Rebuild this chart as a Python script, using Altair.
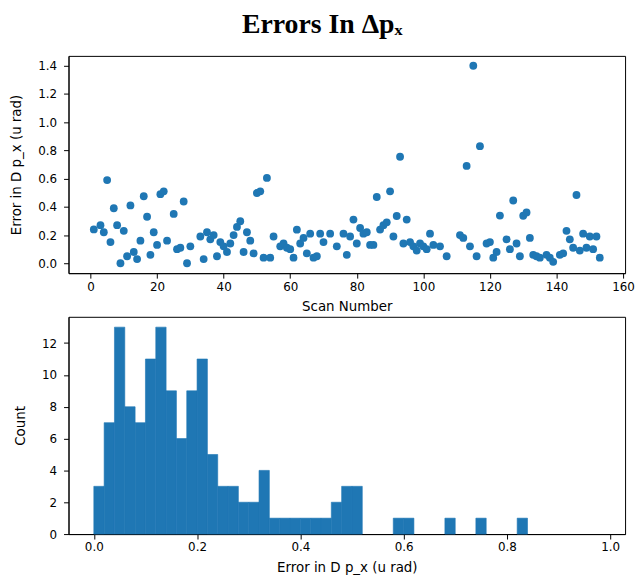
import altair as alt
import pandas as pd

# ---- scatter data: scan number vs error ----
scan = [1, 3, 4, 5, 6, 7, 8, 9, 10, 11, 12, 13, 14, 15, 16, 17, 18, 19, 20, 21, 22, 23,
        25, 26, 27, 28, 29, 30,
        33, 34, 35, 36, 37, 38, 39, 40, 41, 42, 43, 44, 45, 46, 47, 48, 49, 50, 51, 52, 53, 54, 55,
        57, 58, 59, 60, 61, 62, 63, 64, 65, 66, 67, 68, 69, 70,
        72, 74,
        76, 77, 78, 79, 80, 81, 82, 83, 84, 85, 86, 87, 88, 89, 90, 91, 92, 93, 94, 95, 96, 97, 98,
        99, 100, 101, 102, 103,
        105, 107,
        111, 112, 113, 114, 115, 116, 117,
        119, 120, 121, 122, 123,
        125, 126, 127, 128, 129, 130, 131, 132, 133, 134, 135,
        137, 138, 139,
        141, 142, 143, 144, 145, 146, 147, 148, 149, 150, 151, 152, 153]
error = [0.24, 0.27, 0.22, 0.59, 0.15, 0.39, 0.27, 0.00, 0.23, 0.05, 0.41, 0.08, 0.03, 0.16, 0.475,
         0.33, 0.06, 0.22, 0.13, 0.49, 0.51, 0.16,
         0.35, 0.10, 0.11, 0.438, 0.00, 0.12,
         0.19, 0.03, 0.22, 0.17, 0.20, 0.05, 0.15, 0.12, 0.08, 0.14, 0.20, 0.258, 0.298, 0.08, 0.22,
         0.16, 0.07, 0.498, 0.51, 0.04, 0.605, 0.04, 0.19,
         0.12, 0.14, 0.11, 0.10, 0.04, 0.238, 0.14, 0.18, 0.07, 0.21, 0.04, 0.05, 0.21, 0.15,
         0.21, 0.12,
         0.21, 0.06, 0.19, 0.31, 0.14, 0.25, 0.21, 0.22, 0.13, 0.13, 0.47, 0.239, 0.27, 0.29, 0.51,
         0.19, 0.335, 0.755, 0.14, 0.31, 0.15, 0.12, 0.09,
         0.14, 0.12, 0.10, 0.21, 0.13,
         0.12, 0.05,
         0.20, 0.18, 0.69, 0.12, 1.40, 0.05, 0.83,
         0.14, 0.15, 0.04, 0.08, 0.338,
         0.17, 0.10, 0.445, 0.14, 0.05, 0.337, 0.36, 0.18, 0.06, 0.05, 0.04,
         0.06, 0.04, 0.01,
         0.06, 0.07, 0.23, 0.17, 0.11, 0.484, 0.09, 0.21, 0.11, 0.19, 0.10, 0.19, 0.04]

# ---- histogram data: bins of width 0.02 from 0.00 to 0.98 ----
bin_start = [round(i * 0.02, 2) for i in range(49)]
bin_count = [3, 7, 13, 8, 7, 11, 13, 9, 6, 9,
             11, 5, 3, 3, 2, 2, 4, 1, 1, 1,
             1, 1, 1, 2, 3, 3, 0, 0, 0, 1,
             1, 0, 0, 0, 1, 0, 0, 1, 0, 0,
             0, 1, 0, 0, 0, 0, 0, 0, 0]

BLUE = "#1f77b4"
FONT = "DejaVu Sans"

scatter_df = pd.DataFrame({"scan": scan, "error": error})
hist_df = pd.DataFrame({"start": bin_start, "count": bin_count})
hist_df["end"] = hist_df["start"] + 0.02
hist_df = hist_df[hist_df["count"] > 0]

W, H = 561, 219

scatter = alt.Chart(scatter_df).mark_circle(size=62, color=BLUE, opacity=1).encode(
    x=alt.X("scan:Q", title="Scan Number",
            scale=alt.Scale(domain=[-6.6, 160.6], nice=False, zero=False),
            axis=alt.Axis(values=list(range(0, 161, 20)), labelPadding=3, titlePadding=8)),
    y=alt.Y("error:Q", title="Error in D p_x (u rad)",
            scale=alt.Scale(domain=[-0.07, 1.47], nice=False, zero=False),
            axis=alt.Axis(values=[0.0, 0.2, 0.4, 0.6, 0.8, 1.0, 1.2, 1.4], format=".1f")),
).properties(width=W, height=H)

hist = alt.Chart(hist_df).mark_bar(color=BLUE, opacity=1, stroke=BLUE, strokeWidth=0.6).encode(
    x=alt.X("start:Q", title="Error in D p_x (u rad)",
            scale=alt.Scale(domain=[-0.049, 1.029], nice=False, zero=False),
            axis=alt.Axis(values=[0.0, 0.2, 0.4, 0.6, 0.8, 1.0], format=".1f",
                          labelPadding=3, titlePadding=8)),
    x2="end:Q",
    y=alt.Y("count:Q", title="Count",
            scale=alt.Scale(domain=[0, 13.65], nice=False),
            axis=alt.Axis(values=[0, 2, 4, 6, 8, 10, 12])),
    y2=alt.datum(0),
).properties(width=W, height=H)

chart = alt.vconcat(scatter, hist, spacing=2).properties(
    title=alt.TitleParams("Errors In Δpₓ", font="Liberation Serif", fontSize=28,
                          fontWeight="bold", color="black", anchor="middle",
                          frame="bounds", offset=17),
    padding={"left": 1, "top": 0, "right": 0, "bottom": 0},
).configure_view(
    stroke="black", strokeWidth=1
).configure_axis(
    domain=True, domainColor="black", domainWidth=1,
    ticks=True, tickColor="black", tickSize=5, tickWidth=1,
    grid=False,
    labelFont=FONT, labelFontSize=12, labelColor="black", labelPadding=7,
    titleFont=FONT, titleFontSize=13.5, titleFontWeight="normal", titleColor="black",
    titlePadding=14,
)

chart.save("out.html", embed_options={"renderer": "svg", "actions": False})
